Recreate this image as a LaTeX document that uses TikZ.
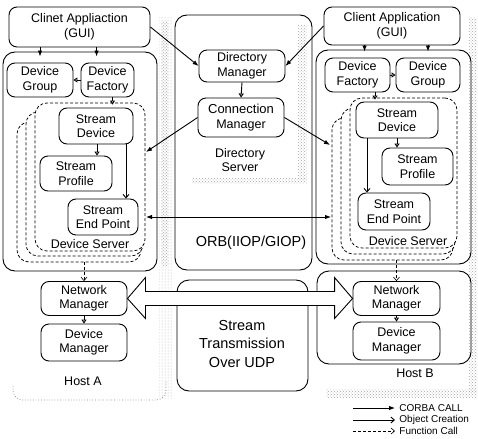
\documentclass[tikz,border=0pt]{standalone}
\usepackage{fontspec}
\setmainfont{Liberation Sans}
\usetikzlibrary{arrows.meta,calc,patterns}

\begin{document}
\begin{tikzpicture}[x=1pt,y=-1pt,line width=0.9pt,
  box/.style={draw,fill=white,rounded corners=8pt,align=center,inner sep=0pt,
    font=\fontsize{12.5}{14.5}\selectfont},
  frame/.style={draw,rounded corners=12pt,inner sep=0pt},
  dframe/.style={draw,fill=white,densely dashed,line width=0.75pt,rounded corners=12pt,inner sep=0pt},
  lbl/.style={align=center,inner sep=0pt,font=\fontsize{12.5}{14.5}\selectfont},
  biglbl/.style={align=center,inner sep=0pt,font=\fontsize{14.5}{18.5}\selectfont},
  leg/.style={anchor=west,inner sep=0pt,font=\fontsize{10}{12}\selectfont},
  stipple/.style={pattern=crosshatch dots,pattern color=gray!70},
  lightstipple/.style={pattern=dots,pattern color=gray!60},
  corba/.style={-{Latex[length=6pt,width=4.5pt]}},
  create/.style={-{Straight Barb[length=3.5pt,width=6pt]}},
  func/.style={densely dashed,line width=0.6pt,-{Straight Barb[length=3.5pt,width=6pt]}},
  spawn/.style={-{Triangle[open,length=4pt,width=5pt]}},
  wd/.style={minimum width=#1pt},
  ht/.style={minimum height=#1pt}]
\useasboundingbox (0,0) rectangle (478,438);

% ---- grainy host and server outlines (drop-shadow bands)
\fill[lightstipple] (159,16) rectangle (173,398);
\fill[stipple] (161,22) rectangle (168,265);
\draw[gray,dotted,line width=0.7pt,rounded corners=10pt] (13,386) -- (13,400) -- (166,400) -- (166,380);
\fill[stipple] (298,25) rectangle (307,180);
\fill[stipple] (192,178) rectangle (307,184);
\fill[stipple] (469,18) rectangle (477,392);
\fill[stipple] (326,389) rectangle (477,397);

% ---- Host A
\node[box,wd=141,ht=40] (caA) at (79.5,27) {Clinet Appliaction\\(GUI)};
\node[frame,wd=154,ht=219] (dsA) at (80,161.5) {};
\node[box,wd=66,ht=34] (dgA) at (40,80) {Device\\Group};
\node[box,wd=53,ht=34] (dfA) at (107.5,80) {Device\\Factory};
\node[dframe,wd=124,ht=140] (dfrA3) at (79,192) {};
\node[dframe,wd=117,ht=144] (dfrA2) at (84.5,184) {};
\node[dframe,wd=110,ht=148] (dfrA1) at (90,177) {};
\node[box,wd=74,ht=36] (sdA) at (96,126) {Stream\\Device};
\node[box,wd=72,ht=35] (spA) at (76,173.5) {Stream\\Profile};
\node[box,wd=70,ht=36] (sepA) at (103,217) {Stream\\End Point};
\node[lbl] (dslA) at (90,244) {Device Server};
\node[box,wd=86,ht=34] (nmA) at (84,298.5) {Network\\Manager};
\node[box,wd=86,ht=37] (dmA) at (84,342.5) {Device\\Manager};
\node[lbl] (hostA) at (83,381) {Host A};

% ---- middle column
\node[frame,wd=137,ht=255] (orb) at (243.5,142.5) {};
\node[biglbl] (orbl) at (251,243) {ORB(IIOP/GIOP)};
\node[box,wd=86,ht=32] (dirm) at (242,66) {Directory\\Manager};
\node[box,wd=86,ht=39] (cm) at (241,117.5) {\fontsize{13}{14.5}\selectfont Connection\\Manager};
\node[lbl] (dsl) at (240,160) {Directory\\Server};
\node[frame,wd=131,ht=111] (stb) at (242.5,335.5) {};
\node[biglbl] (stl) at (242,344) {Stream\\Transmission\\Over UDP};

% ---- Host B
\node[box,wd=136,ht=38] (caB) at (392,26) {Client Application\\(GUI)};
\node[frame,wd=155,ht=214] (dsB) at (393.5,157) {};
\node[box,wd=65,ht=34] (dfB) at (357.5,75) {Device\\Factory};
\node[box,wd=64,ht=34] (dgB) at (428,75) {Device\\Group};
\node[dframe,wd=121,ht=142] (dfrB3) at (392.5,189) {};
\node[dframe,wd=114,ht=146] (dfrB2) at (398,181) {};
\node[dframe,wd=107,ht=150] (dfrB1) at (403.5,173) {};
\node[box,wd=82,ht=36] (sdB) at (397,120) {Stream\\Device};
\node[box,wd=71,ht=37] (spB) at (417.5,166.5) {Stream\\Profile};
\node[box,wd=72,ht=37] (sepB) at (394,211.5) {Stream\\End Point};
\node[lbl] (dslB) at (408,241) {Device Server};
\node[frame,wd=154,ht=93] (hbB) at (394,317.5) {};
\node[box,wd=87,ht=34] (nmB) at (396.5,298.5) {Network\\Manager};
\node[box,wd=87,ht=38] (dmB) at (396.5,341) {Device\\Manager};
\node[lbl] (hostB) at (415,373) {Host B};

% ---- calls inside Host A
\draw[corba,shorten >=6pt] (caA.south -| dgA.north) -- (dgA.north);
\draw[corba] ($(caA.south -| dfA.west)+(16,0)$) -- ($(dfA.north west)+(16,-6)$);
\draw[spawn] (dfA.west) -- (dgA.east);
\draw[spawn] ($(dfA.south)+(5,0)$) -- ($(dfA.south |- sdA.north)+(5,-3)$);
\draw[spawn] ($(sdA.south)+(1,0)$) -- ($(sdA.south |- spA.north)+(1,0)$);
\draw[create] ($(sdA.south)+(30,0)$) -- ($(sdA.south |- sepA.north)+(30,0)$);
\draw[func] (dfrA3.south -| nmA.north) -- (nmA.north);
\draw[spawn] (nmA.south) -- (dmA.north);

% ---- calls inside Host B
\draw[corba] ($(caB.south -| dfB.west)+(40,0)$) -- ($(dfB.north west)+(40,-6)$);
\draw[corba,shorten >=6pt] (caB.south -| dgB.north) -- (dgB.north);
\draw[spawn] (dfB.east) -- (dgB.west);
\draw[spawn] ($(dfB.south)+(17.5,0)$) -- ($(dfB.south |- sdB.north)+(17.5,-2)$);
\draw[spawn] (sdB.south) -- (sdB.south |- spB.north);
\draw[create] ($(sdB.south)+(-30,0)$) -- ($(sdB.south |- sepB.north)+(-30,0)$);
\draw[func] (dfrB3.south -| nmB.north) -- (nmB.north);
\draw[spawn] (nmB.south) -- (dmB.north);

% ---- directory service calls
\coordinate (tipA) at (146,152);
\coordinate (tipB) at (330,145);
\coordinate (orbA) at (146,217);
\coordinate (orbB) at (331,217);
\draw[corba] (caA.east) -- (dirm.west);
\draw[corba] (caB.west) -- (dirm.east);
\draw[spawn] (dirm.south) -- (cm.north);
\draw[corba] (cm.west) -- (tipA);
\draw[corba] (cm.east) -- (tipB);
\draw[{Latex[length=6pt,width=4.5pt]}-{Latex[length=6pt,width=4.5pt]}] (orbA) -- (orbB);

% ---- stream over UDP between the network managers
\draw[fill=white,line join=miter]
  (nmA.east) -- ($(nmA.east)+(18,-21)$) -- ($(nmA.east)+(18,-7)$)
  -- ($(nmB.west)+(-18,-7)$) -- ($(nmB.west)+(-18,-21)$) -- (nmB.west)
  -- ($(nmB.west)+(-18,20)$) -- ($(nmB.west)+(-18,7)$)
  -- ($(nmA.east)+(18,7)$) -- ($(nmA.east)+(18,20)$) -- cycle;

% ---- legend
\coordinate (l1s) at (353,408); \coordinate (l1e) at (395,408);
\coordinate (l2s) at (353,420); \coordinate (l2e) at (395,420);
\coordinate (l3s) at (353,431); \coordinate (l3e) at (395,431);
\draw[corba] (l1s) -- (l1e);
\draw[create] (l2s) -- (l2e);
\draw[func] (l3s) -- (l3e);
\node[leg] (lt1) at (399,408) {CORBA CALL};
\node[leg] (lt2) at (399,420) {Object Creation};
\node[leg] (lt3) at (399,431) {Function Call};
\end{tikzpicture}
\end{document}
